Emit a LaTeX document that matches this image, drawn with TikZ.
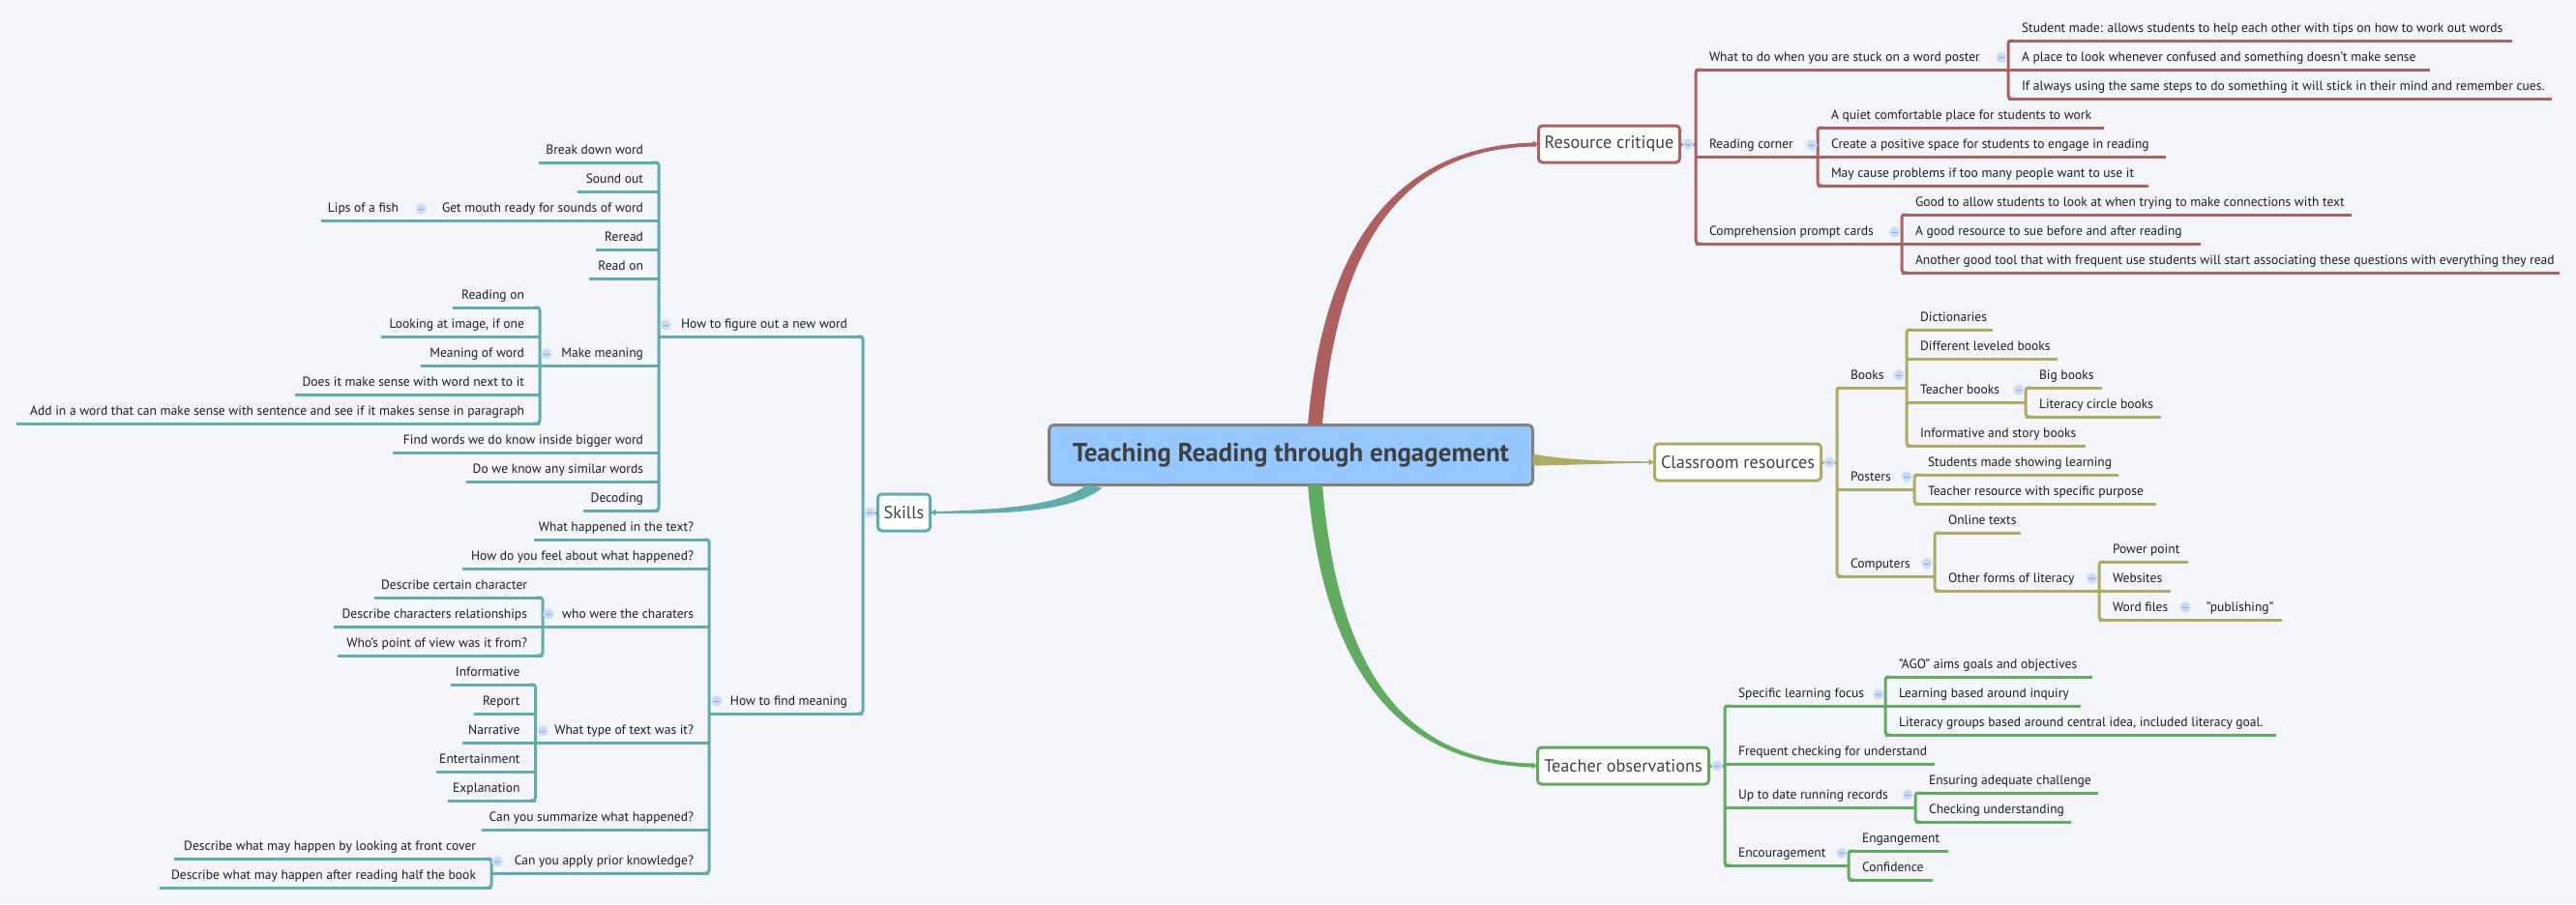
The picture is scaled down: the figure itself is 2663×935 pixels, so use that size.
\documentclass[tikz,border=0pt]{standalone}
\usepackage{fontspec}
\setmainfont{PT Sans}
\usetikzlibrary{arrows.meta}
\definecolor{paper}{HTML}{F3F5FB}
\definecolor{rootfill}{HTML}{96C8FF}
\definecolor{critc}{HTML}{AC6060}
\definecolor{roomc}{HTML}{ACAB60}
\definecolor{obsc}{HTML}{60AB60}
\definecolor{skillc}{HTML}{60ABAB}
\definecolor{inkc}{HTML}{1C1C24}
\definecolor{foldfill}{HTML}{C9DAF6}
\definecolor{foldline}{HTML}{D6E3F8}
\definecolor{foldbar}{HTML}{8FA8D8}
\tikzset{
    underl/.style={draw=brc, line width=3pt},
    trunk/.style={draw=brc, line width=3pt, rounded corners=3pt},
    item/.style={
        inner sep=0pt, outer sep=0pt, text height=10pt, text depth=9pt,
        text=inkc, font=\fontsize{13.55}{15}\selectfont,
        append after command={(\tikzlastnode.south west) edge[underl] (\tikzlastnode.south east)}
    },
    ritem/.style={
        item, anchor=south west,
        execute at begin node={\hbox to #1pt\bgroup\hskip14pt},
        execute at end node={\hss\egroup}
    },
    litem/.style={
        item, anchor=south east,
        execute at begin node={\hbox to #1pt\bgroup\hss},
        execute at end node={\hskip16pt\egroup}
    },
    topic/.style={
        draw=brc, fill=white, line width=3pt, rounded corners=4pt, outer sep=0pt,
        minimum height=38pt, text=black!75, font=\fontsize{18.2}{20}\selectfont
    },
    fold/.style={
        circle, fill=foldfill, draw=foldline, line width=1pt,
        inner sep=0pt, minimum size=10.5pt,
        path picture={\draw[foldbar, line width=1pt]
            ([xshift=-3pt]path picture bounding box.center) -- ([xshift=3pt]path picture bounding box.center);}
    },
    tip/.style={brc, line width=1.2pt, -{Triangle[length=6pt,width=6pt]}}
}
\begin{document}
\begin{tikzpicture}[x=1pt,y=-1pt]
    \useasboundingbox[fill=paper] (0,0) rectangle (2663,935);
    \def\rtrunk#1#2{\draw[trunk] ([xshift=6pt]#1.south west) -- (#1.south west) -- (#2.south west) -- ([xshift=6pt]#2.south west);}
    \def\ltrunk#1#2{\draw[trunk] ([xshift=-6pt]#1.south east) -- (#1.south east) -- (#2.south east) -- ([xshift=-6pt]#2.south east);}

    % Centre
    \node[draw=black!50, fill=rootfill, line width=3pt, rounded corners=5pt, outer sep=0pt,
        minimum width=500pt, minimum height=62pt, text=black!75,
        font=\fontsize{27}{30}\selectfont\bfseries] (root) at (1334.5,470.5)
        {Teaching Reading through engagement};

    % Resource critique
    \colorlet{brc}{critc}
    \node[topic, minimum width=146pt] (rcrit) at (1663.5,149) {Resource critique};
    \node[ritem=323] (poster) at (1753,72) {What to do when you are stuck on a word poster};
    \node[ritem=521] (made) at (2076,42) {Student made: allows students to help each other with tips on how to work out words};
    \node[ritem=436] (place) at (2076,72) {A place to look whenever confused and something doesn't make sense};
    \node[ritem=562] (steps) at (2076,102) {If always using the same steps to do something it will stick in their mind and remember cues.};
    \node[ritem=126] (corner) at (1753,162) {Reading corner};
    \node[ritem=296] (quiet) at (1879,132) {A quiet comfortable place for students to work};
    \node[ritem=360] (space) at (1879,162) {Create a positive space for students to engage in reading};
    \node[ritem=342] (crowd) at (1879,192) {May cause problems if too many people want to use it};
    \node[ritem=213] (prompt) at (1753,252) {Comprehension prompt cards};
    \node[ritem=465] (allow) at (1966,222) {Good to allow students to look at when trying to make connections with text};
    \node[ritem=309] (sue) at (1966,252) {A good resource to sue before and after reading};
    \node[ritem=680] (tool) at (1966,282) {Another good tool that with frequent use students will start associating these questions with everything they read};
    \rtrunk{poster}{prompt}
    \rtrunk{made}{steps}
    \rtrunk{quiet}{crowd}
    \rtrunk{allow}{tool}
    \draw[underl] (rcrit.east) -- (rcrit.east -| poster.south west);
    \fill[critc] ([xshift=17.5pt]root.north) .. controls (1368,250) and (1445,150) .. ([xshift=-3pt,yshift=1.5pt]rcrit.west)
        -- ([xshift=-3pt,yshift=-2.5pt]rcrit.west) .. controls (1450,153) and (1383,250) .. ([xshift=32.5pt]root.north) -- cycle;
    \draw[tip] ([xshift=-8pt]rcrit.west) -- (rcrit.west);
    \node[fold] (fcrit) at (1745,149) {};
    \node[fold] (fposter) at (2069,59.5) {};
    \node[fold] (fcorner) at (1873,150) {};
    \node[fold] (fprompt) at (1958.5,240) {};

    % Classroom resources
    \colorlet{brc}{roomc}
    \node[topic, minimum width=172pt] (room) at (1796.5,478) {Classroom resources};
    \node[ritem=72] (books) at (1899,401) {Books};
    \node[ritem=89] (dict) at (1971,341) {Dictionaries};
    \node[ritem=156] (level) at (1971,371) {Different leveled books};
    \node[ritem=123] (tbooks) at (1971,416) {Teacher books};
    \node[ritem=79] (big) at (2094,401) {Big books};
    \node[ritem=140] (circles) at (2094,431) {Literacy circle books};
    \node[ritem=185] (story) at (1971,461) {Informative and story books};
    \node[ritem=80] (posters) at (1899,506) {Posters};
    \node[ritem=211] (showing) at (1979,491) {Students made showing learning};
    \node[ritem=250] (purpose) at (1979,521) {Teacher resource with specific purpose};
    \node[ritem=101] (comps) at (1899,596) {Computers};
    \node[ritem=89] (online) at (2000,551) {Online texts};
    \node[ritem=170] (forms) at (2000,611) {Other forms of literacy};
    \node[ritem=92] (power) at (2170,581) {Power point};
    \node[ritem=74] (web) at (2170,611) {Websites};
    \node[ritem=97] (wfiles) at (2170,641) {Word files};
    \node[ritem=92] (publish) at (2267,641) {"publishing"};
    \rtrunk{books}{comps}
    \rtrunk{dict}{story}
    \rtrunk{big}{circles}
    \rtrunk{showing}{purpose}
    \rtrunk{online}{forms}
    \rtrunk{power}{wfiles}
    \draw[underl] (room.east) -- (room.east -| books.south west);
    \fill[roomc] ([yshift=1pt]root.east) .. controls (1620,476) and (1660,477) .. ([xshift=-7pt,yshift=0.7pt]room.west)
        -- ([xshift=-7pt,yshift=-0.7pt]room.west) .. controls (1660,479.5) and (1620,481) .. ([yshift=-11pt]root.east) -- cycle;
    \draw[tip] ([xshift=-8pt]room.west) -- (room.west);
    \node[fold] (froom) at (1891,478) {};
    \node[fold] (fbooks) at (1963,388) {};
    \node[fold] (ftbooks) at (2087,403) {};
    \node[fold] (fposters) at (1971,493) {};
    \node[fold] (fcomps) at (1992,583) {};
    \node[fold] (fforms) at (2162.5,598) {};
    \node[fold] (fwfiles) at (2259,628) {};

    % Teacher observations
    \colorlet{brc}{obsc}
    \node[topic, minimum width=177pt] (obs) at (1678,792) {Teacher observations};
    \node[ritem=166] (focus) at (1783,730) {Specific learning focus};
    \node[ritem=214] (ago) at (1949,700) {"AGO" aims goals and objectives};
    \node[ritem=202] (inquiry) at (1949,730) {Learning based around inquiry};
    \node[ritem=404] (groups) at (1949,760) {Literacy groups based around central idea, included literacy goal.};
    \node[ritem=217] (frequent) at (1783,790) {Frequent checking for understand};
    \node[ritem=197] (records) at (1783,835) {Up to date running records};
    \node[ritem=189] (adequate) at (1980,820) {Ensuring adequate challenge};
    \node[ritem=161] (checking) at (1980,850) {Checking understanding};
    \node[ritem=128] (encourage) at (1783,895) {Encouragement};
    \node[ritem=103] (engage) at (1911,880) {Engangement};
    \node[ritem=87] (confid) at (1911,910) {Confidence};
    \rtrunk{focus}{encourage}
    \rtrunk{ago}{groups}
    \rtrunk{adequate}{checking}
    \rtrunk{engage}{confid}
    \draw[underl] (obs.east) -- (obs.east -| focus.south west);
    \fill[obsc] ([xshift=17.5pt]root.south) .. controls (1368,691) and (1445,791) .. ([xshift=-3pt,yshift=-1.5pt]obs.west)
        -- ([xshift=-3pt,yshift=2.5pt]obs.west) .. controls (1450,788) and (1383,691) .. ([xshift=32.5pt]root.south) -- cycle;
    \draw[tip] ([xshift=-8pt]obs.west) -- (obs.west);
    \node[fold] (fobs) at (1775,792) {};
    \node[fold] (ffocus) at (1942,718) {};
    \node[fold] (frecords) at (1972,822) {};
    \node[fold] (fencourage) at (1904,882) {};

    % Skills
    \colorlet{brc}{skillc}
    \node[topic, minimum width=54pt] (skills) at (934.5,530) {Skills};
    \node[litem=211] (figure) at (892,348) {How to figure out a new word};
    \node[litem=124] (brk) at (681,168) {Break down word};
    \node[litem=84] (sound) at (681,198) {Sound out};
    \node[litem=253] (mouth) at (681,228) {Get mouth ready for sounds of word};
    \node[litem=96] (lips) at (428,228) {Lips of a fish};
    \node[litem=65] (reread) at (681,258) {Reread};
    \node[litem=72] (readon) at (681,288) {Read on};
    \node[litem=123] (meaning) at (681,378) {Make meaning};
    \node[litem=90] (readingon) at (558,318) {Reading on};
    \node[litem=164] (image) at (558,348) {Looking at image, if one};
    \node[litem=123.5] (mword) at (558,378) {Meaning of word};
    \node[litem=253] (nextw) at (558,408) {Does it make sense with word next to it};
    \node[litem=541] (addin) at (558,438) {Add in a word that can make sense with sentence and see if it makes sense in paragraph};
    \node[litem=275] (inside) at (681,468) {Find words we do know inside bigger word};
    \node[litem=199] (similar) at (681,498) {Do we know any similar words};
    \node[litem=78] (decoding) at (681,528) {Decoding};
    \node[litem=159] (find) at (892,738) {How to find meaning};
    \node[litem=181.5] (happened) at (733,558) {What happened in the text?};
    \node[litem=255.5] (feel) at (733,588) {How do you feel about what happened?};
    \node[litem=172] (who) at (733,648) {who were the charaters};
    \node[litem=174] (certain) at (561,618) {Describe certain character};
    \node[litem=216] (relation) at (561,648) {Describe characters relationships};
    \node[litem=212.5] (view) at (561,678) {Who's point of view was it from?};
    \node[litem=179] (ttype) at (733,768) {What type of text was it?};
    \node[litem=87.5] (inform) at (553.5,708) {Informative};
    \node[litem=63.5] (report) at (553.5,738) {Report};
    \node[litem=76] (narr) at (553.5,768) {Narrative};
    \node[litem=103] (enter) at (553.5,798) {Entertainment};
    \node[litem=90.5] (explain) at (553.5,828) {Explanation};
    \node[litem=235.5] (summ) at (733,858) {Can you summarize what happened?};
    \node[litem=225] (prior) at (733,903) {Can you apply prior knowledge?};
    \node[litem=328] (cover) at (508,888) {Describe what may happen by looking at front cover};
    \node[litem=343] (half) at (508,918) {Describe what may happen after reading half the book};
    \ltrunk{figure}{find}
    \ltrunk{brk}{decoding}
    \ltrunk{readingon}{addin}
    \ltrunk{happened}{prior}
    \ltrunk{certain}{view}
    \ltrunk{inform}{explain}
    \ltrunk{cover}{half}
    \draw[underl] (skills.west) -- (skills.west -| figure.south east);
    \fill[skillc] ([xshift=-211pt]root.south) .. controls (1100,520) and (1050,527) .. ([xshift=5pt,yshift=1pt]skills.east)
        -- ([xshift=5pt,yshift=-1pt]skills.east) .. controls (1050,532) and (1110,528) .. ([xshift=-195pt,yshift=-3pt]root.south) -- cycle;
    \draw[tip] ([xshift=8pt]skills.east) -- (skills.east);
    \node[fold] (fskills) at (899,530) {};
    \node[fold] (ffigure) at (688,336) {};
    \node[fold] (fmouth) at (435,216) {};
    \node[fold] (fmeaning) at (565,366) {};
    \node[fold] (ffind) at (741,725) {};
    \node[fold] (fwho) at (567,635) {};
    \node[fold] (fttype) at (561,756) {};
    \node[fold] (fprior) at (514,891) {};
\end{tikzpicture}
\end{document}
